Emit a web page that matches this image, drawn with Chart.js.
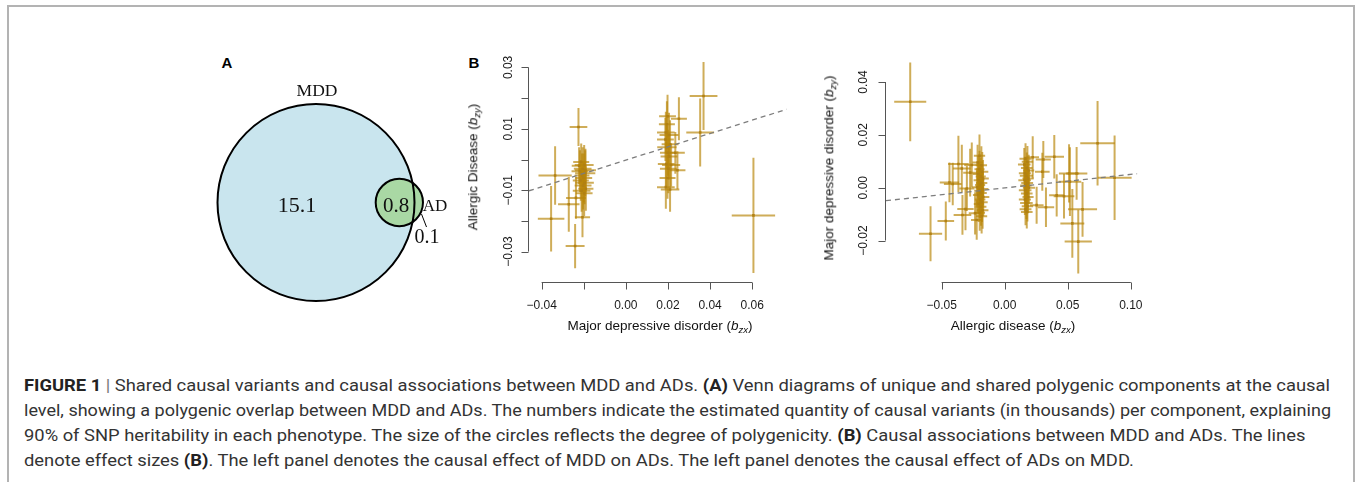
<!DOCTYPE html>
<html>
<head>
<meta charset="utf-8">
<script src="https://cdn.jsdelivr.net/npm/chart.js@4.4.0/dist/chart.umd.min.js"></script>
<style>
  html, body { margin: 0; padding: 0; background: #fff; }
  body { width: 1356px; height: 482px; position: relative; overflow: hidden; font-family: 'Liberation Sans', Arial, sans-serif; }
  .frame { position: absolute; left: 7px; top: 5px; width: 1344px; height: 540px; border: 2px solid #b3b3b3; }
  .lbl { position: absolute; transform: translate(-50%, -50%); white-space: nowrap; line-height: 1; }
  .serif { font-family: 'Liberation Serif', 'Times New Roman', serif; color: #111; }
  .panel { font-weight: bold; font-size: 15px; color: #000; }
  .axt { font-size: 13.5px; color: #111; }
  .axt sub { font-size: 9.5px; vertical-align: -3px; font-style: italic; }
  .rot { transform: translate(-50%, -50%) rotate(-90deg); }
  canvas.c { position: absolute; }
  .cap { position: absolute; left: 24px; white-space: nowrap; font-size: 16px; line-height: 16px; color: #333;
         transform-origin: 0 50%; font-family: 'Liberation Sans Narrow', Roboto, 'Liberation Sans', sans-serif; }
  .cap b { color: #222; }
  .cap .bar { color: #777; }
</style>
</head>
<body>
<div class="frame"></div>

<!-- panel A: Venn -->
<div class="lbl panel" style="left:227px; top:62px;">A</div>
<canvas id="venn" class="c" width="260" height="260" style="left:190px; top:76px;"></canvas>
<div class="lbl serif" style="left:317px; top:91px; font-size:17.5px;">MDD</div>
<div class="lbl serif" style="left:297px; top:205px; font-size:22px;">15.1</div>
<div class="lbl serif" style="left:396px; top:205px; font-size:21px;">0.8</div>
<div class="lbl serif" style="left:435px; top:205px; font-size:17px;">AD</div>
<div class="lbl serif" style="left:427px; top:236px; font-size:20px;">0.1</div>

<!-- panel B -->
<div class="lbl panel" style="left:474px; top:62px;">B</div>
<canvas id="mddOnAd" class="c" width="330" height="300" style="left:470px; top:40px;"></canvas>
<canvas id="adOnMdd" class="c" width="340" height="300" style="left:820px; top:40px;"></canvas>
<div class="lbl axt" style="left:660px; top:327px;">Major depressive disorder (<i>b</i><sub>zx</sub>)</div>
<div class="lbl axt rot" style="left:474px; top:167px;">Allergic Disease (<i>b</i><sub>zy</sub>)</div>
<div class="lbl axt" style="left:1013px; top:327px;">Allergic disease (<i>b</i><sub>zx</sub>)</div>
<div class="lbl axt rot" style="left:830px; top:168px;">Major depressive disorder (<i>b</i><sub>zy</sub>)</div>

<!-- caption -->
<div class="cap" style="top:378px;"><b>FIGURE 1</b> <span class="bar">|</span> Shared causal variants and causal associations between MDD and ADs. <b>(A)</b> Venn diagrams of unique and shared polygenic components at the causal</div>
<div class="cap" style="top:403px;">level, showing a polygenic overlap between MDD and ADs. The numbers indicate the estimated quantity of causal variants (in thousands) per component, explaining</div>
<div class="cap" style="top:428px;">90% of SNP heritability in each phenotype. The size of the circles reflects the degree of polygenicity. <b>(B)</b> Causal associations between MDD and ADs. The lines</div>
<div class="cap" style="top:453px;">denote effect sizes <b>(B)</b>. The left panel denotes the causal effect of MDD on ADs. The left panel denotes the causal effect of ADs on MDD.</div>

<script>
// Venn: centres and radii in units of the MDD circle radius
const vennX = [0, 0.846];
const vennY = [0, 0];
const vennR = [1, 0.24];
const vennFill = ['#c9e5ee', '#a9d8a4'];
// leader line from the AD-only sliver to the "0.1" label
const leaderX = [1.071, 1.122];
const leaderY = [-0.117, -0.249];

// MDD -> AD (left panel): instrument effects and their SEs
const mddX = [-0.0355, -0.0336, -0.0271, -0.0241, -0.0225, -0.0237, -0.0206,
  -0.0212, -0.0198, -0.0205, -0.0218, -0.0193, -0.0208, -0.0200, -0.0214, -0.0196,
  -0.0203, -0.0190, -0.0210, -0.0198, -0.0222, -0.0192,
  0.0369, 0.0353, 0.0252, 0.0245, 0.0198, 0.0195, 0.0190, 0.0205, 0.0188, 0.0210,
  0.0195, 0.0200, 0.0235, 0.0192, 0.0215, 0.0202, 0.0190, 0.0210, 0.0205, 0.0198, 0.0606];
const mddY = [-0.0193, -0.0052, -0.0146, -0.0282, 0.0106, -0.0125, -0.0188,
  -0.0008, -0.0018, -0.0030, -0.0038, -0.0045, -0.0052, -0.0060, -0.0068, -0.0076,
  -0.0085, -0.0095, -0.0102, -0.0110, -0.0020, -0.0035,
  0.0207, 0.0088, 0.0133, -0.0035, 0.0141, 0.0115, 0.0088, 0.0080, 0.0065, 0.0050,
  0.0040, 0.0022, 0.0022, -0.0015, -0.0018, -0.0030, -0.0090, -0.0098, 0.0010, -0.0060, -0.0182];
const mddXse = [0.0063, 0.0079, 0.0051, 0.0045, 0.0042, 0.0047, 0.0036,
  0.0038, 0.0045, 0.0042, 0.0040, 0.0048, 0.0035, 0.0040, 0.0038, 0.0044,
  0.0040, 0.0036, 0.0042, 0.0040, 0.0035, 0.0050,
  0.0066, 0.0066, 0.0038, 0.0038, 0.0040, 0.0038, 0.0042, 0.0045, 0.0040, 0.0040,
  0.0046, 0.0038, 0.0045, 0.0040, 0.0043, 0.0040, 0.0042, 0.0044, 0.0040, 0.0038, 0.0103];
const mddYse = [0.0107, 0.0095, 0.0089, 0.0072, 0.0062, 0.0068, 0.0065,
  0.0060, 0.0065, 0.0070, 0.0068, 0.0075, 0.0072, 0.0080, 0.0066, 0.0070,
  0.0078, 0.0072, 0.0068, 0.0075, 0.0060, 0.0070,
  0.0111, 0.0111, 0.0070, 0.0062, 0.0070, 0.0075, 0.0068, 0.0072, 0.0070, 0.0078,
  0.0070, 0.0075, 0.0068, 0.0072, 0.0070, 0.0080, 0.0070, 0.0072, 0.0075, 0.0068, 0.0188];
const mddFit = [-0.0002, 0.217];   // intercept, slope

// AD -> MDD (right panel)
const adX = [-0.0749, -0.0588, -0.0467, 0.0736, 0.0871, 0.0583, 0.0536, 0.0617, 0.0470, 0.0412,
  0.0393, 0.0327, 0.0517, 0.0570, 0.0510, 0.0306, 0.0298, 0.0253, 0.0222,
  -0.0367, -0.0438, -0.0412, -0.0340, -0.0335, -0.0300, -0.0311, -0.0274, -0.0261, -0.0200, -0.0235, -0.0222,
  -0.0215, -0.0185, -0.0200, -0.0178, -0.0210, -0.0190, -0.0172, -0.0205, -0.0183, -0.0195, -0.0220, -0.0175,
  -0.0200, -0.0186, -0.0212, -0.0170, -0.0195, -0.0180, -0.0205, -0.0188, -0.0175, -0.0198, -0.0183,
  0.0165, 0.0180, 0.0155, 0.0175, 0.0190, 0.0160, 0.0172, 0.0185, 0.0158, 0.0178,
  0.0168, 0.0192, 0.0162, 0.0175, 0.0185, 0.0160, 0.0172, 0.0180, 0.0165, 0.0175];
const adY = [0.0325, -0.0174, -0.0126, 0.0168, 0.0038, -0.0204, -0.0135, -0.0082, -0.0032, -0.0029,
  0.0117, -0.0074, 0.0023, 0.0054, 0.0054, 0.0107, 0.0060, -0.0066, 0.0115,
  0.0090, 0.0020, 0.0014, 0.0073, -0.0103, -0.0003, -0.0081, 0.0057, 0.0086, 0.0121, -0.0097, -0.0122,
  0.0095, 0.0085, 0.0070, 0.0060, 0.0052, 0.0042, 0.0035, 0.0028, 0.0018, 0.0010, 0.0002, -0.0005,
  -0.0012, -0.0020, -0.0028, -0.0035, -0.0045, -0.0055, -0.0062, -0.0072, -0.0085, -0.0095, -0.0108,
  0.0110, 0.0098, 0.0088, 0.0075, 0.0065, 0.0055, 0.0045, 0.0035, 0.0028, 0.0018,
  0.0008, 0.0000, -0.0010, -0.0022, -0.0035, -0.0045, -0.0058, -0.0070, -0.0082, -0.0092];
const adXse = [0.0127, 0.0092, 0.0066, 0.0137, 0.0135, 0.0108, 0.0095, 0.0115, 0.0082, 0.0060,
  0.0077, 0.0065, 0.0090, 0.0085, 0.0080, 0.0060, 0.0058, 0.0055, 0.0050,
  0.0082, 0.0077, 0.0070, 0.0070, 0.0070, 0.0060, 0.0065, 0.0055, 0.0060, 0.0045, 0.0050, 0.0045,
  0.0042, 0.0045, 0.0040, 0.0048, 0.0044, 0.0040, 0.0046, 0.0042, 0.0045, 0.0040, 0.0038, 0.0046,
  0.0042, 0.0044, 0.0040, 0.0048, 0.0042, 0.0045, 0.0040, 0.0043, 0.0046, 0.0042, 0.0044,
  0.0048, 0.0045, 0.0050, 0.0046, 0.0044, 0.0048, 0.0052, 0.0045, 0.0050, 0.0047,
  0.0045, 0.0048, 0.0050, 0.0046, 0.0044, 0.0048, 0.0050, 0.0045, 0.0047, 0.0046];
const adYse = [0.0149, 0.0104, 0.0074, 0.0160, 0.0160, 0.0121, 0.0130, 0.0104, 0.0085, 0.0080,
  0.0082, 0.0075, 0.0130, 0.0100, 0.0110, 0.0070, 0.0072, 0.0070, 0.0080,
  0.0107, 0.0075, 0.0080, 0.0090, 0.0075, 0.0085, 0.0080, 0.0090, 0.0085, 0.0080, 0.0080, 0.0075,
  0.0068, 0.0072, 0.0070, 0.0075, 0.0068, 0.0072, 0.0070, 0.0074, 0.0070, 0.0068, 0.0072, 0.0070,
  0.0074, 0.0070, 0.0068, 0.0072, 0.0070, 0.0075, 0.0068, 0.0072, 0.0070, 0.0068, 0.0065,
  0.0058, 0.0060, 0.0062, 0.0058, 0.0060, 0.0062, 0.0058, 0.0060, 0.0062, 0.0058,
  0.0060, 0.0062, 0.0058, 0.0060, 0.0062, 0.0058, 0.0060, 0.0058, 0.0060, 0.0062];
const adFit = [-0.0001, 0.0513];

// axis ticks (R style: every tick drawn, some labels dropped)
const mddXTicks = [-0.04, -0.02, 0, 0.02, 0.04, 0.06];
const mddXLabels = ['\u22120.04', '', '0.00', '0.02', '0.04', '0.06'];
const mddYTicks = [-0.03, -0.02, -0.01, 0, 0.01, 0.02, 0.03];
const mddYLabels = ['\u22120.03', '', '\u22120.01', '', '0.01', '', '0.03'];
const adXTicks = [-0.05, 0, 0.05, 0.10];
const adXLabels = ['\u22120.05', '0.00', '0.05', '0.10'];
const adYTicks = [-0.02, 0, 0.02, 0.04];
const adYLabels = ['\u22120.02', '0.00', '0.02', '0.04'];

const GOLD_BAR = 'rgba(184,134,11,0.68)';
const GOLD_PT = 'rgba(176,128,20,0.95)';

// error bars drawn per point so overlaps darken like the original
const errorBarPlugin = {
  id: 'errorBars',
  beforeDatasetsDraw(chart) {
    const ds = chart.data.datasets[1];
    const xs = chart.scales.x, ys = chart.scales.y;
    const ctx = chart.ctx, a = chart.chartArea;
    ctx.save();
    ctx.beginPath();
    ctx.rect(a.left, a.top, a.right - a.left, a.bottom - a.top);
    ctx.clip();
    ctx.strokeStyle = GOLD_BAR;
    ctx.lineWidth = 2;
    ds.data.forEach((p, i) => {
      const px = xs.getPixelForValue(p.x), py = ys.getPixelForValue(p.y);
      ctx.beginPath();
      ctx.moveTo(xs.getPixelForValue(p.x - ds.xErr[i]), py);
      ctx.lineTo(xs.getPixelForValue(p.x + ds.xErr[i]), py);
      ctx.stroke();
      ctx.beginPath();
      ctx.moveTo(px, ys.getPixelForValue(p.y - ds.yErr[i]));
      ctx.lineTo(px, ys.getPixelForValue(p.y + ds.yErr[i]));
      ctx.stroke();
    });
    ctx.restore();
  }
};

// R-like axes: line spans first..last tick, y labels parallel to the axis
function rAxes(spec) {
  return {
    id: 'rAxes',
    afterDraw(chart) {
      const ctx = chart.ctx, xs = chart.scales.x, ys = chart.scales.y, a = chart.chartArea;
      ctx.save();
      ctx.strokeStyle = '#555';
      ctx.lineWidth = 1;
      ctx.fillStyle = '#1a1a1a';
      ctx.font = '12px "Liberation Sans", Arial, sans-serif';
      ctx.textAlign = 'center';
      ctx.textBaseline = 'middle';

      const xb = Math.round(a.bottom) + 0.5;
      const xt = spec.xTicks;
      ctx.beginPath();
      ctx.moveTo(xs.getPixelForValue(xt[0]), xb);
      ctx.lineTo(xs.getPixelForValue(xt[xt.length - 1]), xb);
      xt.forEach(t => {
        const px = Math.round(xs.getPixelForValue(t)) + 0.5;
        ctx.moveTo(px, xb);
        ctx.lineTo(px, xb + 7);
      });
      ctx.stroke();
      xt.forEach((t, i) => {
        if (spec.xLabels[i]) ctx.fillText(spec.xLabels[i], xs.getPixelForValue(t), xb + 23);
      });

      const yl = Math.round(a.left) - 0.5;
      const yt = spec.yTicks;
      ctx.beginPath();
      ctx.moveTo(yl, ys.getPixelForValue(yt[0]));
      ctx.lineTo(yl, ys.getPixelForValue(yt[yt.length - 1]));
      yt.forEach(t => {
        const py = Math.round(ys.getPixelForValue(t)) + 0.5;
        ctx.moveTo(yl, py);
        ctx.lineTo(yl - 7, py);
      });
      ctx.stroke();
      yt.forEach((t, i) => {
        if (!spec.yLabels[i]) return;
        ctx.save();
        ctx.translate(yl - spec.yLabelGap, ys.getPixelForValue(t));
        ctx.rotate(-Math.PI / 2);
        ctx.fillText(spec.yLabels[i], 0, 0);
        ctx.restore();
      });
      ctx.restore();
    }
  };
}

function makeScatter(id, xs, ys, xse, yse, fit, xLim, yLim, pad, axisSpec) {
  const pts = xs.map((x, i) => ({ x: x, y: ys[i] }));
  const fitLine = xLim.map(x => ({ x: x, y: fit[0] + fit[1] * x }));
  return new Chart(document.getElementById(id), {
    type: 'scatter',
    data: {
      datasets: [
        {
          type: 'line',
          data: fitLine,
          borderColor: '#7d7d7d',
          borderWidth: 1.3,
          borderDash: [5, 4],
          pointRadius: 0,
          fill: false,
          order: 0
        },
        {
          data: pts,
          xErr: xse,
          yErr: yse,
          pointStyle: 'rect',
          pointRadius: 1.8,
          backgroundColor: GOLD_PT,
          borderWidth: 0,
          order: 1
        }
      ]
    },
    options: {
      responsive: false,
      animation: false,
      devicePixelRatio: 1,
      events: [],
      layout: { padding: pad, autoPadding: false },
      plugins: { legend: { display: false }, tooltip: { enabled: false } },
      scales: {
        x: { type: 'linear', display: false, min: xLim[0], max: xLim[1] },
        y: { type: 'linear', display: false, min: yLim[0], max: yLim[1] }
      }
    },
    plugins: [errorBarPlugin, rAxes(axisSpec)]
  });
}

makeScatter('mddOnAd', mddX, mddY, mddXse, mddYse, mddFit,
  [-0.046, 0.0764], [-0.0399, 0.0347],
  { left: 59, top: 13, right: 13.3, bottom: 58 },
  { xTicks: mddXTicks, xLabels: mddXLabels, yTicks: mddYTicks, yLabels: mddYLabels, yLabelGap: 20 });

makeScatter('adOnMdd', adX, adY, adXse, adYse, adFit,
  [-0.0941, 0.1051], [-0.0358, 0.0506],
  { left: 66, top: 14, right: 22.7, bottom: 57.7 },
  { xTicks: adXTicks, xLabels: adXLabels, yTicks: adYTicks, yLabels: adYLabels, yLabelGap: 22 });

// Venn diagram as bubbles; pixel radius taken from the x scale once it is laid out
const venn = new Chart(document.getElementById('venn'), {
  type: 'bubble',
  data: {
    datasets: [
      { data: [], backgroundColor: vennFill, borderWidth: 0, order: 3 },
      { data: [], backgroundColor: 'rgba(0,0,0,0)', borderColor: '#000', borderWidth: 2, order: 2 },
      { type: 'line', data: leaderX.map((x, i) => ({ x: x, y: leaderY[i] })), borderColor: '#000',
        borderWidth: 1, pointRadius: 0, fill: false, order: 1 }
    ]
  },
  options: {
    responsive: false,
    animation: false,
    devicePixelRatio: 1,
    events: [],
    layout: { padding: { left: 7.8, right: 15.8, top: 8.3, bottom: 15.3 }, autoPadding: false },
    plugins: { legend: { display: false }, tooltip: { enabled: false } },
    scales: {
      x: { type: 'linear', display: false, min: -1.2, max: 1.2 },
      y: { type: 'linear', display: false, min: -1.2, max: 1.2 }
    }
  }
});
const vx = venn.scales.x;
const vennCircles = vennX.map((x, i) => ({
  x: x, y: vennY[i], r: vx.getPixelForValue(vennR[i]) - vx.getPixelForValue(0)
}));
venn.data.datasets[0].data = vennCircles;
venn.data.datasets[1].data = vennCircles.map(c => Object.assign({}, c));
venn.update('none');

// fit caption: first two lines are flush to the right margin, the rest keep the same scale
const capLines = document.querySelectorAll('.cap');
const w0 = capLines[0].getBoundingClientRect().width;
const sx = 1306 / w0;
capLines.forEach((el, i) => {
  const s = i === 1 ? 1307 / el.getBoundingClientRect().width : sx;
  el.style.transform = 'scaleX(' + s + ')';
});
</script>
</body>
</html>
